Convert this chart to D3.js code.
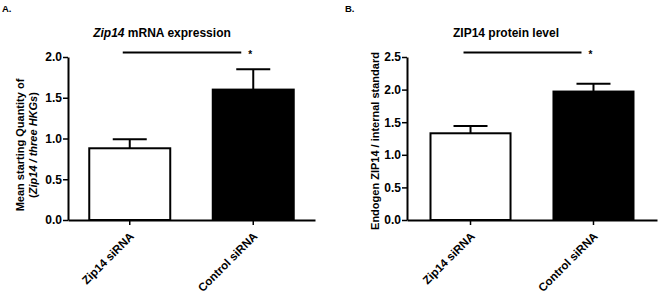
<!DOCTYPE html>
<html>
<head>
<meta charset="utf-8">
<script src="https://cdnjs.cloudflare.com/ajax/libs/d3/7.8.5/d3.min.js"></script>
<style>
  body { margin: 0; background: #fff; }
  svg { display: block; font-family: Arial, "Liberation Sans", sans-serif; font-weight: bold; }
</style>
</head>
<body>
<div id="chart"></div>
<script>
// data
const categories = ["Zip14 siRNA", "Control siRNA"];
const mrnaMean = [0.88, 1.60];
const mrnaSem = [0.11, 0.25];
const proteinMean = [1.33, 1.97];
const proteinSem = [0.11, 0.12];
const mrnaTicks = [0, 0.5, 1.0, 1.5, 2.0];
const proteinTicks = [0, 0.5, 1.0, 1.5, 2.0, 2.5];
const barFills = ["#fff", "#000"];

const width = 658, height = 296;

const svg = d3.select("#chart")
  .append("svg")
  .attr("width", width)
  .attr("height", height);

function drawPanel(opt) {
  const g = svg.append("g");

  const y = d3.scaleLinear()
    .domain([0, opt.ymax])
    .range([220, 57]);

  const x = d3.scaleBand()
    .domain(categories)
    .range([opt.x0, opt.x1])
    .paddingInner(opt.pin)
    .paddingOuter(opt.pout);

  // bars
  g.selectAll("rect.bar")
    .data(categories)
    .join("rect")
      .attr("class", "bar")
      .attr("x", d => x(d) + 1)
      .attr("width", x.bandwidth() - 2)
      .attr("y", (d, i) => y(opt.mean[i]))
      .attr("height", (d, i) => y(0) - y(opt.mean[i]))
      .attr("fill", (d, i) => barFills[i])
      .attr("stroke", "#000")
      .attr("stroke-width", 2);

  // error bars (upper only)
  const err = g.selectAll("g.err")
    .data(categories)
    .join("g")
      .attr("class", "err")
      .attr("stroke", "#000")
      .attr("stroke-width", 2);
  err.append("line")
    .attr("x1", d => x(d) + x.bandwidth() / 2)
    .attr("x2", d => x(d) + x.bandwidth() / 2)
    .attr("y1", (d, i) => y(opt.mean[i]))
    .attr("y2", (d, i) => y(opt.mean[i] + opt.sem[i]));
  err.append("line")
    .attr("x1", d => x(d) + x.bandwidth() / 2 - 17)
    .attr("x2", d => x(d) + x.bandwidth() / 2 + 17)
    .attr("y1", (d, i) => y(opt.mean[i] + opt.sem[i]))
    .attr("y2", (d, i) => y(opt.mean[i] + opt.sem[i]));

  // y axis
  const yAxis = g.append("g")
    .attr("transform", `translate(${opt.x0},0)`)
    .call(d3.axisLeft(y).tickValues(opt.ticks).tickFormat(d3.format(".1f")).tickSize(5).tickSizeOuter(0));
  yAxis.select(".domain").attr("stroke-width", 2);
  yAxis.selectAll(".tick line").attr("stroke-width", 1.5);
  yAxis.selectAll(".tick text")
    .attr("font-family", "Arial, 'Liberation Sans', sans-serif")
    .attr("font-weight", "bold")
    .attr("font-size", 12)
    .attr("x", -6)
    .attr("fill", "#000");

  // x axis
  const xAxis = g.append("g")
    .attr("transform", `translate(0,${y(0)})`)
    .call(d3.axisBottom(x).tickSize(5).tickSizeOuter(0));
  xAxis.select(".domain").attr("stroke-width", 2);
  xAxis.selectAll(".tick line").attr("stroke-width", 1.5);
  xAxis.selectAll(".tick text")
    .attr("font-family", "Arial, 'Liberation Sans', sans-serif")
    .attr("font-weight", "bold")
    .attr("font-size", 11.5)
    .attr("fill", "#000")
    .attr("text-anchor", "end")
    .attr("dy", null)
    .attr("y", 0)
    .attr("transform", "translate(5,17) rotate(-45)");

  // significance bar
  const c0 = x(categories[0]) + x.bandwidth() / 2;
  const c1 = x(categories[1]) + x.bandwidth() / 2;
  g.append("line")
    .attr("x1", c0 - 7).attr("x2", c1 - 12)
    .attr("y1", 52.5).attr("y2", 52.5)
    .attr("stroke", "#000").attr("stroke-width", 2);
  g.append("text")
    .attr("x", c1 - 3).attr("y", 58)
    .attr("text-anchor", "middle")
    .attr("font-size", 10)
    .text("*");

  // title
  const title = g.append("text")
    .attr("x", opt.titleX).attr("y", 37)
    .attr("text-anchor", "middle")
    .attr("font-size", 12);
  opt.title.forEach(p => title.append("tspan").attr("font-style", p.it ? "italic" : null).text(p.t));

  // panel letter
  g.append("text")
    .attr("x", opt.letterX).attr("y", 12)
    .attr("font-size", 9.5)
    .text(opt.letter);

  // y label
  opt.ylabel.forEach((line, li) => {
    const t = g.append("text")
      .attr("transform", `translate(${opt.ylabelX + li * 13},${opt.ylabelY}) rotate(-90)`)
      .attr("text-anchor", "middle")
      .attr("font-size", 11);
    line.forEach(p => t.append("tspan").attr("font-style", p.it ? "italic" : null).text(p.t));
  });
}

drawPanel({
  x0: 68, x1: 315, pin: 0.328, pout: 0.164,
  ymax: 2.0, ticks: mrnaTicks,
  mean: mrnaMean, sem: mrnaSem,
  title: [{t: "Zip14", it: true}, {t: " mRNA expression"}], titleX: 162,
  letter: "A.", letterX: 2,
  ylabel: [
    [{t: "Mean starting Quantity of"}],
    [{t: "("}, {t: "Zip14 / three HKGs", it: true}, {t: ")"}]
  ],
  ylabelX: 24, ylabelY: 145
});

drawPanel({
  x0: 407, x1: 657, pin: 0.333, pout: 0.183,
  ymax: 2.5, ticks: proteinTicks,
  mean: proteinMean, sem: proteinSem,
  title: [{t: "ZIP14 protein level"}], titleX: 506,
  letter: "B.", letterX: 345,
  ylabel: [[{t: "Endogen ZIP14 / internal standard"}]],
  ylabelX: 379, ylabelY: 141
});
</script>
</body>
</html>
